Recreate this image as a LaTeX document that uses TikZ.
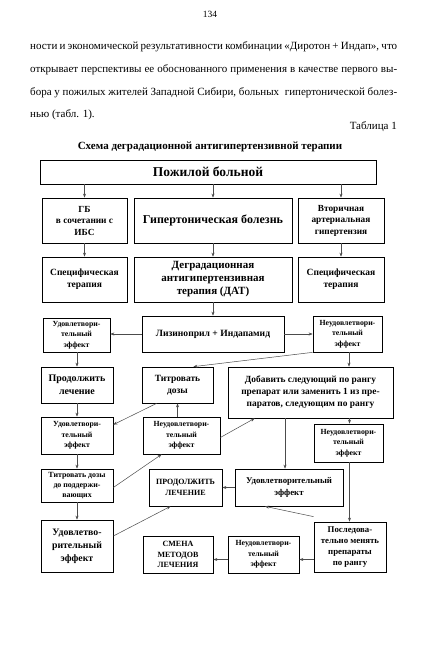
\documentclass[tikz,border=0pt]{standalone}
\usepackage{fontspec}
\setmainfont{Liberation Serif}
\usetikzlibrary{arrows.meta,calc}
\newcommand\mybox[8]{\node[box,minimum width={(#4-#2)*1pt},minimum height={(#5-#3)*1pt},font=\fontsize{#6}{#7}\selectfont\bfseries] (#1) at ({(#2+#4)/2},{(#3+#5)/2}) {#8};}
\begin{document}
\begin{tikzpicture}[x=1pt,y=-1pt,
 box/.style={draw=black,line width=0.7pt,align=center,inner sep=1pt},
 arr/.style={draw=black!70,line width=0.5pt,-{Stealth[length=4pt,width=3pt]}},
 txt/.style={inner sep=0pt,font=\fontsize{11}{13}\selectfont}]
\useasboundingbox[fill=white] (0,0) rectangle (420,650);
% page text
\node[txt,font=\fontsize{9.5}{11}\selectfont] (pg) at (210,14) {134};
\node[txt,anchor=west] (l1) at (30,47) {\makebox[367pt][s]{ности и экономической результативности комбинации «Диротон + Индап», что}};
\node[txt,anchor=west] (l2) at (30,70) {\makebox[367pt][s]{открывает перспективы ее обоснованного применения в качестве первого вы-}};
\node[txt,anchor=west] (l3) at (30,93) {\makebox[367pt][s]{бора у пожилых жителей Западной Сибири, больных \ гипертонической болез-}};
\node[txt,anchor=west] (l4) at (30,115) {нью (табл. 1).};
\node[txt,anchor=east] (tab) at (397,127) {Таблица 1};
\node[txt,font=\fontsize{11}{13}\selectfont\bfseries] (ttl) at (210,147) {Схема деградационной антигипертензивной терапии};
% boxes
\mybox{top}{40}{160}{376}{184}{13.5}{16}{Пожилой больной}
\mybox{gb}{42}{198}{127}{243}{9.3}{11.5}{ГБ\\в сочетании с\\ИБС}
\mybox{hb}{134}{198}{292}{243}{12}{14}{Гипертоническая болезнь}
\mybox{vag}{298}{198}{384}{243}{9.3}{11.5}{Вторичная\\артериальная\\гипертензия}
\mybox{st1}{42}{257}{127}{302}{9.5}{12}{Специфическая\\терапия}
\mybox{dat}{134}{257}{292}{302}{11}{13}{Деградационная\\антигипертензивная\\терапия (ДАТ)}
\mybox{st2}{298}{257}{384}{302}{9.5}{12}{Специфическая\\терапия}
\mybox{lis}{142}{316}{284}{352}{9.6}{11}{Лизиноприл + Индапамид}
\mybox{ud1}{43}{318}{110}{352}{7.8}{10.3}{Удовлетвори-\\тельный\\эффект}
\mybox{nu1}{313}{316}{382}{352}{7.8}{10.3}{Неудовлетвори-\\тельный\\эффект}
\mybox{prod}{41}{367}{113}{403}{10}{13}{Продолжить\\лечение}
\mybox{titr}{142}{367}{213}{403}{9.5}{12.5}{Титровать\\дозы}
\mybox{dob}{228}{367}{393}{418}{9.4}{12}{Добавить следующий по рангу\\препарат или заменить 1 из пре-\\паратов, следующим по рангу}
\mybox{ud2}{41}{417}{113}{454}{7.8}{10.5}{Удовлетвори-\\тельный\\эффект}
\mybox{nu2}{143}{417}{220}{454}{7.8}{10.5}{Неудовлетвори-\\тельный\\эффект}
\mybox{nu3}{314}{424}{383}{462}{7.8}{10.5}{Неудовлетвори-\\тельный\\эффект}
\mybox{tdp}{41}{469}{113}{502}{7.9}{10}{Титровать дозы\\до поддержи-\\вающих}
\mybox{prodb}{149}{469}{222}{506}{8}{10.5}{ПРОДОЛЖИТЬ\\ЛЕЧЕНИЕ}
\mybox{ud3}{235}{469}{343}{506}{8.8}{12}{Удовлетворительный\\эффект}
\mybox{ud4}{41}{520}{113}{572}{9.8}{13}{Удовлетво-\\рительный\\эффект}
\mybox{smena}{143}{536}{213}{573}{8}{10.5}{СМЕНА\\МЕТОДОВ\\ЛЕЧЕНИЯ}
\mybox{nu4}{228}{536}{299}{573}{7.8}{10.5}{Неудовлетвори-\\тельный\\эффект}
\mybox{posl}{314}{522}{386}{572}{8.8}{10.8}{Последова-\\тельно менять\\препараты\\по рангу}
% connectors
\draw[arr] (top.south -| gb.north) -- (gb.north);
\draw[arr] (top.south -| hb.north) -- (hb.north);
\draw[arr] (top.south -| vag.north) -- (vag.north);
\draw[arr] (gb) -- (st1);
\draw[arr] (hb) -- (dat);
\draw[arr] (vag) -- (st2);
\draw[arr] (dat.south -| lis.north) -- (lis.north);
\draw[arr] (lis.west) -- (ud1.east |- lis.west);
\draw[arr] (lis.east) -- (nu1.west |- lis.east);
\draw[arr] (ud1.south -| prod.north) -- (prod.north);
\draw[arr] (prod) -- (ud2);
\draw[arr] (ud2) -- (tdp);
\draw[arr] (tdp) -- (ud4);
\coordinate (cn1) at ([xshift=1.5pt]nu1.south);
\draw[arr] (cn1) -- (cn1 |- dob.north);
\coordinate (cn3) at ([xshift=1pt]nu3.north);
\draw[arr] (cn3 |- dob.south) -- (cn3);
\draw[arr] (cn3 |- nu3.south) -- (cn3 |- posl.north);
\draw[arr] (nu1.south west) -- ([xshift=-20pt]titr.north east);
\draw[arr] ([xshift=15pt]titr.south west) -- ([yshift=-8pt]ud2.north east);
\draw[arr] (titr.south |- nu2.north) -- (titr.south);
\draw[arr] ([yshift=-2pt]nu2.east) -- ([xshift=27pt]dob.south west);
\coordinate (cu3) at ([xshift=-4pt]ud3.north);
\draw[arr] (cu3 |- dob.south) -- (cu3);
\draw[arr] ([yshift=-2pt]tdp.east) -- ([xshift=19pt]nu2.south west);
\draw[arr] ([yshift=10pt]ud4.east) -- ([xshift=-15pt]prodb.south);
\draw[arr] (ud3.west) -- (ud3.west -| prodb.east);
\draw[arr] ([yshift=5pt]posl.north west) -- ([xshift=-24pt]ud3.south);
\coordinate (cp) at ([yshift=-5pt]nu4.east);
\draw[arr] (cp -| posl.west) -- (cp);
\coordinate (cs) at ([yshift=-5pt]nu4.west);
\draw[arr] (cs) -- (cs -| smena.east);
\end{tikzpicture}
\end{document}
